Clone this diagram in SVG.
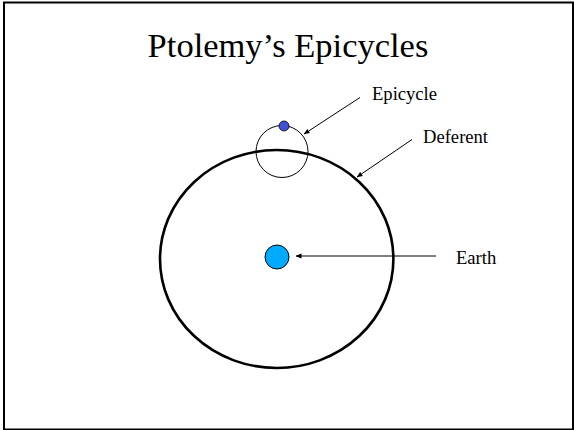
<svg xmlns="http://www.w3.org/2000/svg" width="574" height="430" viewBox="0 0 574 430">
<style>
.lbl{font-family:"Liberation Serif","Times New Roman",serif;font-size:18.6px;fill:#000}
.title{font-family:"Liberation Serif","Times New Roman",serif;font-size:34.5px;fill:#000}
.conn{stroke:#000;stroke-width:1;fill:none;marker-end:url(#ah)}
</style>
<defs>
<marker id="ah" viewBox="0 0 6 6" refX="5.5" refY="3" markerWidth="6" markerHeight="6" markerUnits="userSpaceOnUse" orient="auto">
<path d="M0,0.6 L6,3 L0,5.4 Z" fill="#000"/>
</marker>
</defs>
<rect x="0" y="0" width="574" height="430" fill="#fff"/>
<rect x="4" y="2.5" width="569" height="427" fill="none" stroke="#000" stroke-width="2"/>
<text class="title" x="288" y="57" text-anchor="middle">Ptolemy’s Epicycles</text>
<g id="deferent">
<ellipse cx="276.7" cy="259" rx="116.7" ry="109" fill="none" stroke="#000" stroke-width="2.6"/>
</g>
<g id="epicycle">
<circle cx="282" cy="151.5" r="26" fill="none" stroke="#000" stroke-width="1"/>
</g>
<g id="planet">
<circle cx="284" cy="126" r="5" fill="#4050d8" stroke="#000" stroke-width="0.8"/>
</g>
<g id="earth">
<circle cx="277" cy="257" r="12" fill="#00aaff" stroke="#000" stroke-width="1"/>
</g>
<g id="label-epicycle"><text class="lbl" x="372" y="100">Epicycle</text></g>
<g id="label-deferent"><text class="lbl" x="423" y="143">Deferent</text></g>
<g id="label-earth"><text class="lbl" x="456" y="264">Earth</text></g>
<g id="connectors">
<line class="conn" x1="360" y1="97.5" x2="304" y2="134"/>
<line class="conn" x1="412" y1="139.5" x2="357" y2="177"/>
<line class="conn" x1="436" y1="256" x2="296" y2="256"/>
</g>
</svg>
